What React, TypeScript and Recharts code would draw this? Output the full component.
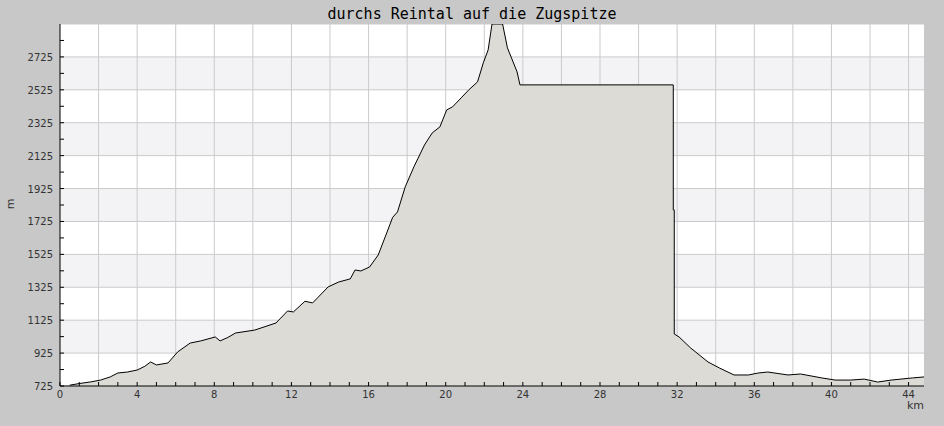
import React from 'react';
import { AreaChart, Area, XAxis, YAxis, CartesianGrid } from 'recharts';

// distance (km) and elevation (m) (summit shown cut at the top edge)
const km = [
  0.5, 1.0, 1.6, 2.1, 2.6, 3.0, 3.5, 4.0, 4.4, 4.7, 5.0, 5.6, 6.1, 6.75, 7.3, 8.05, 8.3, 8.7,
  9.1, 10.1, 11.2, 11.8, 12.1, 12.7, 13.1, 13.9, 14.45, 15.05, 15.3, 15.6, 16.05, 16.5, 16.9,
  17.25, 17.5, 17.9, 18.35, 18.9, 19.3, 19.7, 20.05, 20.35, 20.8, 21.2, 21.65, 21.95, 22.2,
  22.4, 22.65, 22.95, 23.2, 23.7, 23.85, 31.8, 31.8, 31.85, 31.85, 32.1, 32.7, 33.6, 34.2,
  34.95, 35.7, 36.2, 36.7, 37.75, 38.4, 39.5, 40.2, 41.0, 41.7, 42.4, 43.1, 44.2, 44.8,
];
const elevation = [
  730, 740, 750, 761, 780, 804, 810, 822, 845, 871, 853, 865, 932, 986, 999, 1023, 999, 1020,
  1047, 1065, 1108, 1181, 1175, 1240, 1230, 1327, 1357, 1376, 1430, 1424, 1448, 1521, 1643,
  1750, 1783, 1935, 2057, 2190, 2263, 2300, 2403, 2421, 2476, 2525, 2573, 2689, 2768,
  2925, 2925, 2925, 2780, 2634, 2555, 2555, 1795, 1795, 1041, 1023, 956, 871, 834,
  792, 792, 804, 810, 792, 798, 774, 761, 761, 767, 749, 761, 774, 780,
];

const xTicks = [0, 1, 2, 3, 4, 5, 6, 7, 8, 9, 10, 11, 12, 13, 14, 15, 16, 17, 18, 19, 20, 21, 22, 23, 24, 25, 26, 27, 28, 29, 30, 31, 32, 33, 34, 35, 36, 37, 38, 39, 40, 41, 42, 43, 44];
const xGrid = [2, 4, 6, 8, 10, 12, 14, 16, 18, 20, 22, 24, 26, 28, 30, 32, 34, 36, 38, 40, 42, 44];
const yTicks = [725, 825, 925, 1025, 1125, 1225, 1325, 1425, 1525, 1625, 1725, 1825, 1925, 2025, 2125, 2225, 2325, 2425, 2525, 2625, 2725, 2825];
const yGrid = [2925, 2725, 2525, 2325, 2125, 1925, 1725, 1525, 1325, 1125, 925, 725];

const data = km.map((k, i) => ({ km: k, elev: elevation[i] }));

const labelFont = '"DejaVu Sans", sans-serif';

const XTick = (props: any) => {
  const { x, y, payload } = props;
  const v = payload.value;
  return (
    <g>
      <line x1={x} x2={x} y1={y} y2={y - 4} stroke="#000" />
      {v % 4 === 0 && (
        <text x={x} y={y + 12} textAnchor="middle" fontSize={10} fontFamily={labelFont} fill="#333">
          {v}
        </text>
      )}
    </g>
  );
};

const YTick = (props: any) => {
  const { x, y, payload } = props;
  const v = payload.value;
  return (
    <g>
      <line x1={x} x2={x + 4} y1={y} y2={y} stroke="#000" />
      {(v - 725) % 200 === 0 && (
        <text x={x - 7} y={y + 4} textAnchor="end" fontSize={10} fontFamily={labelFont} fill="#333">
          {v}
        </text>
      )}
    </g>
  );
};

export default function App() {
  return (
    <div style={{ position: 'absolute', left: 0, top: 0, width: 944, height: 426, background: '#c8c8c8', overflow: 'hidden' }}>
      <div
        style={{
          position: 'absolute', left: 0, top: 5, width: 944, textAlign: 'center',
          fontFamily: '"DejaVu Sans Mono", monospace', fontSize: 15, color: '#000', lineHeight: '18px',
        }}
      >
        durchs Reintal auf die Zugspitze
      </div>
      <div
        style={{
          position: 'absolute', left: 3, top: 196, width: 16, height: 16, textAlign: 'center',
          fontFamily: labelFont, fontSize: 11, color: '#333', lineHeight: '16px', transform: 'rotate(-90deg)',
        }}
      >
        m
      </div>
      <div
        style={{
          position: 'absolute', left: 880, top: 399, width: 44, textAlign: 'right',
          fontFamily: labelFont, fontSize: 11, color: '#333', lineHeight: '14px',
        }}
      >
        km
      </div>
      <div style={{ position: 'absolute', left: 0, top: 0 }}>
        <AreaChart width={944} height={426} data={data} margin={{ top: 24, right: 20, bottom: 0, left: 0 }}>
          <CartesianGrid
            fill="#ffffff"
            horizontalFill={['#ffffff', '#f3f2f5']}
            stroke="#cbcbcb"
            horizontalValues={yGrid}
            verticalValues={xGrid}
          />
          <XAxis
            dataKey="km"
            type="number"
            domain={[0, 44.8]}
            ticks={xTicks}
            interval={0}
            allowDataOverflow
            height={40}
            tickSize={0}
            tickMargin={0}
            tickLine={false}
            axisLine={{ stroke: '#000' }}
            tick={<XTick />}
          />
          <YAxis
            type="number"
            domain={[725, 2925]}
            ticks={yTicks}
            interval={0}
            allowDataOverflow
            width={60}
            tickSize={0}
            tickMargin={0}
            tickLine={false}
            axisLine={{ stroke: '#000' }}
            tick={<YTick />}
          />
          <Area
            type="linear"
            dataKey="elev"
            stroke="#000"
            strokeWidth={1}
            fill="#dcdbd5"
            fillOpacity={1}
            isAnimationActive={false}
            dot={false}
            activeDot={false}
          />
        </AreaChart>
      </div>
    </div>
  );
}
